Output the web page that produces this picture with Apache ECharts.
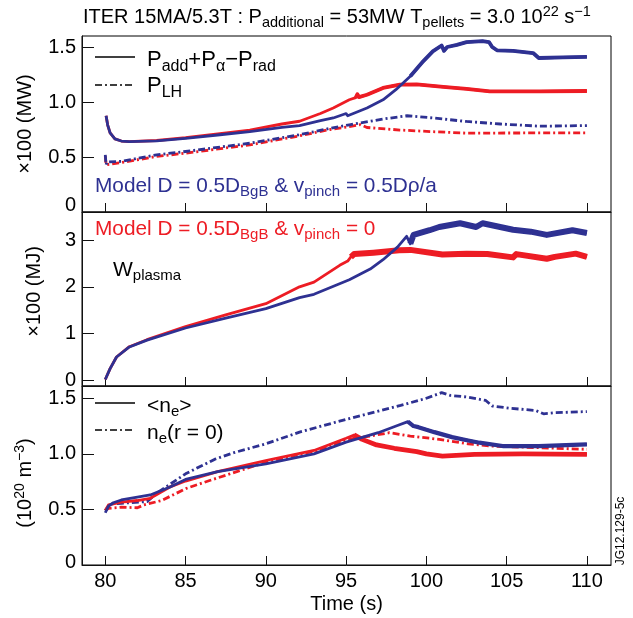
<!DOCTYPE html>
<html><head><meta charset="utf-8">
<script src="https://cdn.jsdelivr.net/npm/echarts@6/dist/echarts.min.js"></script>
<style>html,body{margin:0;padding:0;background:#fff}#c{width:633px;height:618px}</style>
</head><body><div id="c"></div>
<script>
const FONT = '"Liberation Sans", Arial, Helvetica, sans-serif';
const RED = '#ed1c24', BLUE = '#2e3192';

// ---- shared ticks ----
const xTicks = [80, 85, 90, 95, 100, 105, 110];
const yTicksP = [0, 0.5, 1.0, 1.5];
const yTicksW = [0, 1, 2, 3];
const yTicksN = [0, 0.5, 1.0, 1.5];

// ---- Panel 1: P_add+P_alpha-P_rad (solid) and P_LH (dash-dot), x100 MW ----
const pBlueSolidT = [80.05,80.15,80.3,80.6,81.0,81.5,83.2,85.0,87.0,89.0,91.0,92.1,93.4,94.2,95.0,95.1,96.3,97.3,98.1,99.0,99.8,100.4,100.95,101.1,101.3,101.9,102.5,103.5,103.9,104.1,104.4,105.4,106.65,107.0,108.5,110];
const pBlueSolidV = [0.875,0.79,0.72,0.665,0.645,0.64,0.646,0.67,0.70,0.73,0.77,0.785,0.83,0.855,0.895,0.875,0.945,1.02,1.112,1.234,1.37,1.46,1.514,1.465,1.5,1.52,1.544,1.553,1.545,1.5,1.47,1.465,1.445,1.40,1.405,1.41];
const pRedSolidT = [80.05,80.15,80.3,80.6,81.0,81.5,83.2,85.0,87.0,89.0,91.0,92.1,93.4,94.2,95.2,95.6,95.7,95.8,96.3,97.3,98.35,99.4,101.05,102.5,103.95,107.07,110];
const pRedSolidV = [0.875,0.79,0.72,0.665,0.645,0.64,0.65,0.675,0.71,0.745,0.80,0.825,0.895,0.945,1.02,1.04,1.07,1.045,1.066,1.128,1.158,1.16,1.137,1.12,1.097,1.097,1.1];
const pBlueDashT = [80.0,80.05,80.1,81.0,83.2,85.0,89.0,92.0,94.0,95.2,97.3,98.8,100.4,102.5,104.6,107.07,110];
const pBlueDashV = [0.52,0.43,0.455,0.46,0.52,0.55,0.625,0.70,0.76,0.793,0.845,0.875,0.855,0.823,0.80,0.78,0.786];
const pRedDashT = [80.0,80.05,80.1,81.0,83.2,85.0,89.0,92.0,94.0,95.2,95.9,96.3,97.5,98.35,100.4,102.5,110];
const pRedDashV = [0.51,0.43,0.445,0.45,0.505,0.535,0.61,0.69,0.75,0.777,0.795,0.768,0.755,0.745,0.73,0.717,0.72];

// ---- Panel 2: W_plasma, x100 MJ ----
const wBlueT = [80.0,80.3,80.7,81.5,82.6,85.0,87.5,90.0,92.1,93.0,95.2,96.5,97.3,98.2,98.77,99.0,99.2,100.2,100.8,102.1,103.1,103.5,105.4,106.5,107.5,109.1,110];
const wBlueV = [0.02,0.25,0.5,0.715,0.86,1.12,1.33,1.535,1.77,1.84,2.15,2.38,2.58,2.85,3.08,2.92,3.11,3.21,3.28,3.36,3.28,3.36,3.22,3.18,3.11,3.21,3.15];
const wRedT = [80.0,80.3,80.7,81.5,82.6,85.0,87.5,90.0,92.1,93.0,94.6,95.1,95.3,95.5,96.7,98.3,99.0,101.0,102.5,103.8,105.4,105.6,107.5,108.0,109.3,110];
const wRedV = [0.02,0.25,0.5,0.72,0.87,1.15,1.40,1.64,2.0,2.1,2.46,2.55,2.64,2.70,2.73,2.78,2.79,2.69,2.71,2.70,2.63,2.70,2.60,2.64,2.71,2.64];

// ---- Panel 3: <n_e> (solid) and n_e(r=0) (dash-dot), 10^20 m^-3 ----
const nBlueSolidT = [80.0,80.2,80.5,81.0,82.0,82.8,84.0,85.0,87.0,90.0,93.0,95.0,97.0,98.2,98.85,99.2,99.5,100.5,101.6,102.6,103.3,104.75,107,110];
const nBlueSolidV = [0.47,0.53,0.56,0.585,0.61,0.63,0.70,0.77,0.84,0.91,1.0,1.105,1.19,1.255,1.29,1.25,1.24,1.195,1.15,1.12,1.10,1.07,1.07,1.085];
const nRedSolidT = [80.0,80.2,80.5,81.0,82.0,82.8,84.0,85.0,87.0,90.0,93.0,95.0,95.5,96.0,96.9,98.0,99.4,100.0,101.0,103.0,106,110];
const nRedSolidV = [0.49,0.54,0.55,0.565,0.58,0.60,0.70,0.755,0.84,0.94,1.03,1.14,1.17,1.13,1.08,1.05,1.02,1.00,0.98,0.995,1.0,0.995];
const nBlueDashT = [80.0,80.3,81.0,82.6,83.3,85.0,86.8,88.0,90.0,92.1,95.0,98.4,100.0,100.95,101.5,102.6,103.7,104.1,105.2,106.8,107.3,108,110];
const nBlueDashV = [0.49,0.55,0.555,0.57,0.655,0.82,0.95,1.01,1.09,1.195,1.31,1.435,1.50,1.55,1.525,1.51,1.48,1.43,1.41,1.39,1.36,1.37,1.38];
const nRedDashT = [80.0,80.2,81.0,82.0,82.4,83.5,85.07,86.5,88.4,90.0,93.2,95.3,96.5,97.7,99.0,100.8,102.6,104,110];
const nRedDashV = [0.49,0.51,0.52,0.515,0.54,0.58,0.69,0.76,0.85,0.925,1.03,1.135,1.16,1.19,1.16,1.13,1.09,1.07,1.04];

const DASHDOT = [7, 3, 2, 3];
function pairs(T, V) { return T.map((t, i) => [t, V[i]]); }
function mkLine(gi, T, V, color, dash, width, from) {
  let d = pairs(T, V);
  if (from != null) d = d.filter(p => p[0] >= from);
  return { type: 'line', xAxisIndex: gi, yAxisIndex: gi, data: d, symbol: 'none', showSymbol: false,
    silent: true, animation: false, clip: true,
    lineStyle: { color: color, width: width, type: dash ? DASHDOT : 'solid', cap: 'butt', join: 'round' } };
}

const grids = [
  { left: 82, top: 36, width: 529, height: 176 },
  { left: 82, top: 212, width: 529, height: 174 },
  { left: 82, top: 386, width: 529, height: 179 }
].map(g => Object.assign(g, { show: true, borderColor: '#000', borderWidth: 1, backgroundColor: 'transparent' }));

const axisCol = '#111';
function xAx(gi, last) {
  return { type: 'value', gridIndex: gi, min: 78.55, max: 111.5,
    axisLine: { show: true, onZero: false, lineStyle: { color: axisCol, width: 1 } },
    axisTick: { show: true, inside: true, length: 9, customValues: xTicks, lineStyle: { color: axisCol, width: 1 } },
    axisLabel: { show: last, customValues: xTicks, margin: 6, color: '#000', fontSize: 20, fontFamily: FONT },
    splitLine: { show: false },
    name: last ? 'Time (s)' : '', nameLocation: 'middle', nameGap: 29,
    nameTextStyle: { color: '#000', fontSize: 20, fontFamily: FONT } };
}
const richY = {
  z1: { fontSize: 20, fontFamily: FONT, color: '#000', padding: [0, 0, 14, 0] },
  z3: { fontSize: 20, fontFamily: FONT, color: '#000', padding: [0, 0, 6, 0] }
};
function yAx(gi, min, max, ticks, name, fmt, pad) {
  return { type: 'value', gridIndex: gi, min: min, max: max,
    axisLine: { show: true, onZero: false, lineStyle: { color: axisCol, width: 1 } },
    axisTick: { show: true, inside: true, length: 12, customValues: ticks, lineStyle: { color: axisCol, width: 1 } },
    axisLabel: { customValues: ticks, formatter: fmt, margin: 6, color: '#000', fontSize: 20, fontFamily: FONT, rich: richY },
    splitLine: { show: false },
    name: name, nameLocation: 'middle', nameGap: 36, nameRotate: 90,
    nameTextStyle: { color: '#000', fontSize: 20, fontFamily: FONT, lineHeight: 24, padding: pad,
      rich: { sup: { fontSize: 14, fontFamily: FONT, lineHeight: 14, verticalAlign: 'top', color: '#000' } } } };
}

function txt(x, y, text, color, size, sub, extra) {
  const subR = { fontSize: sub, fontFamily: FONT, lineHeight: sub, verticalAlign: 'bottom', fill: color, color: color };
  const supR = { fontSize: sub, fontFamily: FONT, lineHeight: sub, verticalAlign: 'top', fill: color, color: color };
  return Object.assign({ type: 'text', x: x, y: y, silent: true, z: 100,
    style: { text: text, fill: color, fontSize: size, fontFamily: FONT, lineHeight: Math.round(size * 1.3),
      verticalAlign: 'middle', align: 'left', rich: { sub: subR, sup: supR } } }, extra || {});
}
function seg(x1, y, x2, dash) {
  return { type: 'line', silent: true, z: 100, shape: { x1: x1, y1: y, x2: x2, y2: y },
    style: { stroke: '#000', lineWidth: 1.3, lineDash: dash ? DASHDOT : null } };
}

const option = {
  animation: false,
  backgroundColor: '#fff',
  grid: grids,
  xAxis: [xAx(0, false), xAx(1, false), xAx(2, true)],
  yAxis: [
    yAx(0, 0, 1.6, yTicksP, '×100 (MW)', v => v === 0 ? '{z1|0}' : v.toFixed(1), 0),
    yAx(1, -0.12, 3.6, yTicksW, '×100 (MJ)', v => String(v), [0, 0, 0, 15]),
    yAx(2, 0, 1.61, yTicksN, '(10{sup|20} m{sup|−3})', v => v === 0 ? '{z3|0}' : v.toFixed(1), [0, 15, 0, 0])
  ],
  series: [
    mkLine(0, pRedDashT, pRedDashV, RED, true, 2.8),
    mkLine(0, pBlueDashT, pBlueDashV, BLUE, true, 2.8),
    mkLine(0, pRedSolidT, pRedSolidV, RED, false, 2.8),
    mkLine(0, pRedSolidT, pRedSolidV, RED, false, 3.8, 95.6),
    mkLine(0, pBlueSolidT, pBlueSolidV, BLUE, false, 2.8),
    mkLine(0, pBlueSolidT, pBlueSolidV, BLUE, false, 3.8, 99.0),
    mkLine(1, wRedT, wRedV, RED, false, 2.8),
    mkLine(1, wRedT, wRedV, RED, false, 6, 95.3),
    mkLine(1, wBlueT, wBlueV, BLUE, false, 2.8),
    mkLine(1, wBlueT, wBlueV, BLUE, false, 6, 99.0),
    mkLine(2, nRedDashT, nRedDashV, RED, true, 2.8),
    mkLine(2, nBlueDashT, nBlueDashV, BLUE, true, 2.8),
    mkLine(2, nRedSolidT, nRedSolidV, RED, false, 2.8),
    mkLine(2, nRedSolidT, nRedSolidV, RED, false, 4.8, 95.5),
    mkLine(2, nBlueSolidT, nBlueSolidV, BLUE, false, 2.8),
    mkLine(2, nBlueSolidT, nBlueSolidV, BLUE, false, 4.2, 98.85)
  ],
  graphic: [
    txt(83, 17, 'ITER 15MA/5.3T : P{sub|additional} = 53MW T{sub|pellets} = 3.0 10{sup|22} s{sup|−1}', '#000', 20, 14.5),
    seg(95, 57, 135, false),
    txt(147, 60, 'P{sub|add}+P{sub|α}−P{sub|rad}', '#000', 22, 16),
    seg(95, 85, 135, true),
    txt(147, 86, 'P{sub|LH}', '#000', 22, 16),
    txt(95, 186, 'Model D = 0.5D{sub|BgB} & v{sub|pinch} = 0.5Dρ/a', BLUE, 20.8, 15),
    txt(95, 229, 'Model D = 0.5D{sub|BgB} & v{sub|pinch} = 0', RED, 20.8, 15),
    txt(113, 270, 'W{sub|plasma}', '#000', 21, 15),
    seg(95, 403, 135, false),
    txt(147, 406, '<n{sub|e}>', '#000', 21, 15),
    seg(95, 430, 135, true),
    txt(147, 433, 'n{sub|e}(r = 0)', '#000', 21, 15),
    { type: 'text', x: 621, y: 531, rotation: Math.PI / 2, silent: true, z: 100,
      style: { text: 'JG12.129-5c', fill: '#000', fontSize: 12, fontFamily: FONT, align: 'center', verticalAlign: 'middle' } }
  ]
};
const chart = echarts.init(document.getElementById('c'), null, { renderer: 'canvas' });
chart.setOption(option);
</script></body></html>
